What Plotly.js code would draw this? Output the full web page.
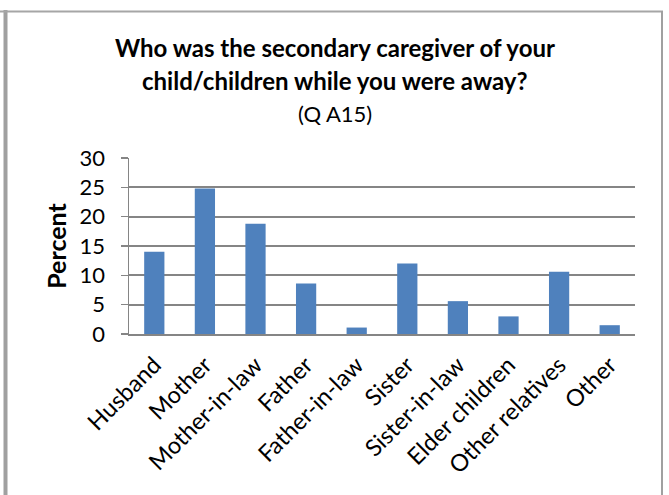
<!DOCTYPE html>
<html>
<head>
<meta charset="utf-8">
<script src="https://cdn.plot.ly/plotly-3.0.1.min.js"></script>
<style>
html,body{margin:0;padding:0;background:#fff;}
#chart{width:669px;height:495px;}
</style>
</head>
<body>
<div id="chart"></div>
<script>
const categories = ["Husband","Mother","Mother-in-law","Father","Father-in-law","Sister","Sister-in-law","Elder children","Other relatives","Other"];
const percent = [14, 24.8, 18.8, 8.6, 1.1, 12, 5.6, 3, 10.6, 1.5];
const yTicks = [0,5,10,15,20,25,30];
const titleLines = ["Who was the secondary caregiver of your","child/children while you were away?","(Q A15)"];

const W = 669, H = 495;
const L = 129, R = 635, T = 158, B = 334;
const px = x => (x - L) / (R - L);
const py = y => (B - y) / (B - T);
const FONT = "Lato, 'Open Sans', sans-serif";
const grey = "#858585";

const trace = {
  type: "bar",
  x: categories,
  y: percent,
  marker: {color: "#4F81BD", line: {width: 0}},
  hoverinfo: "x+y"
};

const layout = {
  width: W, height: H,
  margin: {l: L, r: W - R, t: T, b: H - B, pad: 0},
  paper_bgcolor: "#ffffff",
  plot_bgcolor: "#ffffff",
  showlegend: false,
  bargap: 0.6,
  font: {family: FONT, color: "#000"},
  xaxis: {
    type: "category",
    tickangle: -45,
    tickfont: {family: FONT, size: 23.5, color: "#000"},
    ticklabelstandoff: 6,
    showline: true, linecolor: grey, linewidth: 2,
    showgrid: false, ticks: "", zeroline: false,
    fixedrange: true
  },
  yaxis: {
    range: [0, 30],
    tickvals: yTicks,
    ticktext: yTicks.map(String),
    tickfont: {family: FONT, size: 22, color: "#000"},
    ticks: "outside", ticklen: 7, tickwidth: 1.5, tickcolor: grey,
    ticklabelstandoff: 11,
    showline: true, linecolor: grey, linewidth: 1.5,
    showgrid: true, gridcolor: grey, gridwidth: 2,
    zeroline: false,
    title: {text: "<b>Percent</b>", font: {family: FONT, size: 25, color: "#000"}, standoff: 6},
    fixedrange: true
  },
  annotations: [
    {text: "<b>" + titleLines[0] + "</b>", x: px(335), y: py(47), xref: "paper", yref: "paper", xanchor: "center", yanchor: "middle", showarrow: false, font: {family: FONT, size: 24, color: "#000"}},
    {text: "<b>" + titleLines[1] + "</b>", x: px(335), y: py(80), xref: "paper", yref: "paper", xanchor: "center", yanchor: "middle", showarrow: false, font: {family: FONT, size: 24, color: "#000"}},
    {text: titleLines[2], x: px(335), y: py(113), xref: "paper", yref: "paper", xanchor: "center", yanchor: "middle", showarrow: false, font: {family: FONT, size: 22, color: "#000"}}
  ],
  shapes: [
    {type: "line", xref: "paper", yref: "paper", x0: px(5.5), x1: px(5.5), y0: py(10), y1: py(500), line: {color: "#a0a0a0", width: 4}},
    {type: "line", xref: "paper", yref: "paper", x0: px(0), x1: px(663), y0: py(11.5), y1: py(11.5), line: {color: "#a6a6a6", width: 2}},
    {type: "line", xref: "paper", yref: "paper", x0: px(662), x1: px(662), y0: py(11), y1: py(500), line: {color: "#a0a0a0", width: 2}}
  ]
};

Plotly.newPlot("chart", [trace], layout, {displayModeBar: false, staticPlot: true});
</script>
</body>
</html>
